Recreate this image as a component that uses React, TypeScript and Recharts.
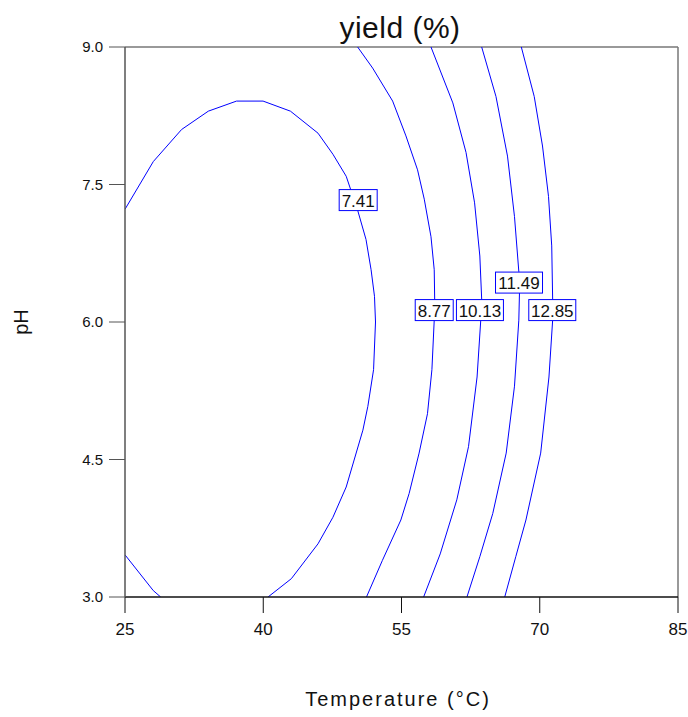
import { LineChart, Line, XAxis, YAxis, ReferenceLine, ReferenceDot } from "recharts";

type Pt = { x: number; y: number };

// contour traces (temperature °C, pH)
const contour741: Pt[] = [
  { x: 25, y: 7.23 }, { x: 28.07, y: 7.75 }, { x: 31.14, y: 8.1 }, { x: 34.04, y: 8.3 },
  { x: 37.1, y: 8.41 }, { x: 39.98, y: 8.41 }, { x: 42.95, y: 8.3 }, { x: 45.94, y: 8.06 },
  { x: 47.56, y: 7.83 }, { x: 49.0, y: 7.59 }, { x: 50.24, y: 7.22 }, { x: 51.15, y: 6.9 },
  { x: 51.7, y: 6.57 }, { x: 52.07, y: 6.28 }, { x: 52.18, y: 6.0 }, { x: 51.97, y: 5.48 },
  { x: 51.35, y: 5.08 }, { x: 50.81, y: 4.82 }, { x: 49.0, y: 4.2 }, { x: 47.56, y: 3.87 },
  { x: 45.94, y: 3.58 }, { x: 43.05, y: 3.2 }, { x: 40.52, y: 3.0 },
];
const contour741Corner: Pt[] = [
  { x: 25, y: 3.46 }, { x: 28.07, y: 3.07 }, { x: 28.87, y: 3.0 },
];
const contour877: Pt[] = [
  { x: 50.24, y: 9.0 }, { x: 51.87, y: 8.77 }, { x: 54.04, y: 8.41 }, { x: 55.48, y: 8.03 },
  { x: 56.74, y: 7.66 }, { x: 57.47, y: 7.34 }, { x: 58.2, y: 6.93 }, { x: 58.55, y: 6.57 },
  { x: 58.6, y: 6.25 }, { x: 58.55, y: 6.02 }, { x: 58.3, y: 5.48 }, { x: 57.82, y: 5.0 },
  { x: 56.91, y: 4.57 }, { x: 55.83, y: 4.13 }, { x: 54.93, y: 3.84 }, { x: 52.93, y: 3.4 },
  { x: 51.2, y: 3.0 },
];
const contour1013: Pt[] = [
  { x: 58.2, y: 9.0 }, { x: 60.57, y: 8.39 }, { x: 62.0, y: 7.85 }, { x: 62.93, y: 7.3 },
  { x: 63.5, y: 6.72 }, { x: 63.7, y: 6.25 }, { x: 63.6, y: 6.02 }, { x: 63.2, y: 5.4 },
  { x: 62.27, y: 4.64 }, { x: 61.0, y: 4.06 }, { x: 59.2, y: 3.47 }, { x: 57.4, y: 3.0 },
];
const contour1149: Pt[] = [
  { x: 63.7, y: 9.0 }, { x: 65.25, y: 8.46 }, { x: 66.5, y: 7.81 }, { x: 67.26, y: 7.15 },
  { x: 67.73, y: 6.55 }, { x: 67.8, y: 6.32 }, { x: 67.73, y: 6.02 }, { x: 67.26, y: 5.3 },
  { x: 66.36, y: 4.57 }, { x: 64.9, y: 3.91 }, { x: 63.5, y: 3.44 }, { x: 62.1, y: 3.0 },
];
const contour1285: Pt[] = [
  { x: 68.0, y: 9.0 }, { x: 69.4, y: 8.46 }, { x: 70.3, y: 7.92 }, { x: 70.95, y: 7.37 },
  { x: 71.3, y: 6.83 }, { x: 71.4, y: 6.25 }, { x: 71.4, y: 6.02 }, { x: 71.0, y: 5.4 },
  { x: 70.1, y: 4.57 }, { x: 68.5, y: 3.84 }, { x: 67.4, y: 3.44 }, { x: 66.2, y: 3.0 },
];

const contourLabels = [
  { text: "7.41", x: 50.3, y: 7.33 },
  { text: "8.77", x: 58.55, y: 6.13 },
  { text: "10.13", x: 63.51, y: 6.13 },
  { text: "11.49", x: 67.75, y: 6.43 },
  { text: "12.85", x: 71.36, y: 6.13 },
];

const xTicks = [25, 40, 55, 70, 85];
const yTicks = [3, 4.5, 6, 7.5, 9];

const FONT = "Liberation Sans, Arial, sans-serif";
const BLUE = "#0000ff";

const series = [contour741, contour741Corner, contour877, contour1013, contour1149, contour1285];

function LabelBox({ cx, cy, text }: any) {
  const w = text.length * 9 + 2;
  return (
    <g>
      <rect x={cx - w / 2} y={cy - 10.5} width={w} height={21} fill="#fff" stroke={BLUE} strokeWidth={1} />
      <text x={cx} y={cy + 6.5} textAnchor="middle" fontSize={17} fontFamily={FONT} fill="#111">
        {text}
      </text>
    </g>
  );
}

export default function App() {
  return (
    <div style={{ position: "absolute", left: 0, top: 0 }}>
      <LineChart
        width={688}
        height={717}
        margin={{ top: 47, right: 10, left: 0, bottom: 80 }}
        style={{ fontFamily: FONT }}
      >
        <XAxis
          type="number"
          dataKey="x"
          domain={[25, 85]}
          ticks={xTicks}
          allowDataOverflow
          height={40}
          tickSize={16}
          tickMargin={10}
          stroke="#111"
          axisLine={{ stroke: "#111", strokeWidth: 1.5 }}
          tick={{ fill: "#111", fontSize: 17, fontFamily: FONT }}
        />
        <YAxis
          type="number"
          dataKey="y"
          domain={[3, 9]}
          ticks={yTicks}
          allowDataOverflow
          width={125}
          tickSize={16}
          tickMargin={6}
          stroke="#555"
          axisLine={{ stroke: "#555", strokeWidth: 1.5 }}
          tick={{ fill: "#111", fontSize: 15, fontFamily: FONT }}
          tickFormatter={(v: number) => v.toFixed(1)}
        />
        <ReferenceLine y={9} stroke="#777" strokeWidth={1.5} />
        <ReferenceLine x={85} stroke="#777" strokeWidth={1.5} />
        {series.map((s, i) => (
          <Line
            key={i}
            data={s}
            dataKey="y"
            type="linear"
            stroke={BLUE}
            strokeWidth={1}
            dot={false}
            activeDot={false}
            isAnimationActive={false}
          />
        ))}
        {contourLabels.map(l => (
          <ReferenceDot
            key={l.text}
            x={l.x}
            y={l.y}
            shape={(p: any) => <LabelBox cx={p.cx} cy={p.cy} text={l.text} />}
          />
        ))}
        <text x={400} y={38} textAnchor="middle" fontSize={30} letterSpacing={0.5} fontFamily={FONT} fill="#111">
          yield (%)
        </text>
        <text
          x={28}
          y={322}
          textAnchor="middle"
          fontSize={20}
          fontFamily={FONT}
          fill="#111"
          transform="rotate(-90, 28, 322)"
        >
          pH
        </text>
        <text x={398} y={706} textAnchor="middle" fontSize={20} letterSpacing={2} fontFamily={FONT} fill="#111">
          Temperature (°C)
        </text>
      </LineChart>
    </div>
  );
}
